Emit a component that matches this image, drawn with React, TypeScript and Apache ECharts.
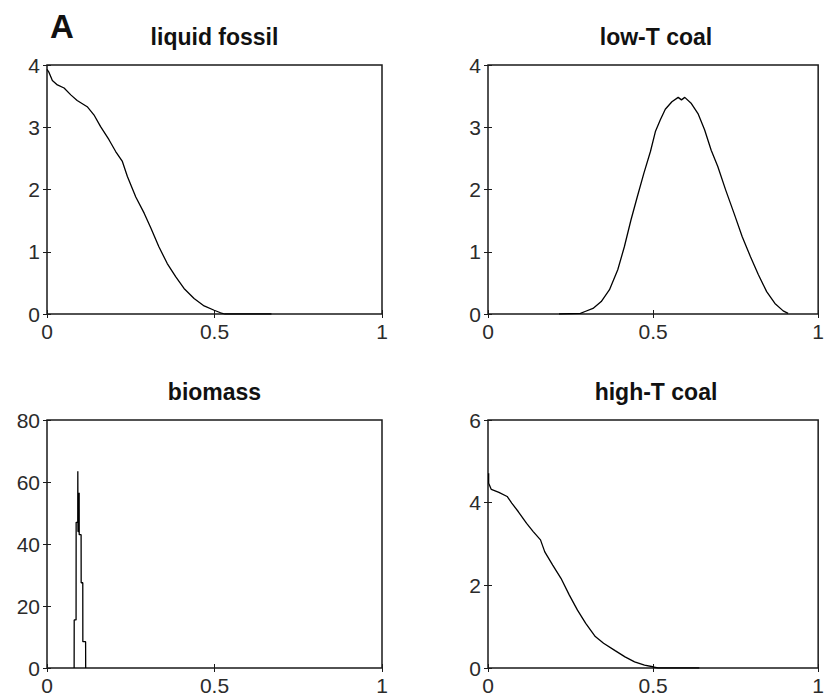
import React, { useEffect, useRef } from "react";
import * as echarts from "echarts";

// Panel curves (x from 0 to 1)
const liquidFossilX = [0.0, 0.006, 0.016, 0.031, 0.051, 0.071, 0.09, 0.12, 0.14, 0.16, 0.185, 0.205, 0.225, 0.24, 0.265, 0.29, 0.31, 0.334, 0.359, 0.384, 0.409, 0.439, 0.469, 0.499, 0.518, 0.53, 0.67];
const liquidFossilY = [3.93, 3.88, 3.75, 3.68, 3.63, 3.52, 3.43, 3.33, 3.2, 3.01, 2.8, 2.61, 2.45, 2.21, 1.88, 1.62, 1.38, 1.08, 0.81, 0.6, 0.41, 0.25, 0.13, 0.06, 0.02, 0.0, 0.0];

const lowTCoalX = [0.215, 0.28, 0.294, 0.318, 0.343, 0.368, 0.393, 0.413, 0.433, 0.452, 0.472, 0.492, 0.507, 0.522, 0.537, 0.557, 0.576, 0.586, 0.596, 0.616, 0.636, 0.656, 0.676, 0.696, 0.72, 0.745, 0.77, 0.795, 0.819, 0.844, 0.869, 0.894, 0.909];
const lowTCoalY = [0.0, 0.01, 0.04, 0.09, 0.2, 0.39, 0.71, 1.08, 1.51, 1.88, 2.26, 2.61, 2.93, 3.12, 3.29, 3.41, 3.48, 3.44, 3.48, 3.38, 3.22, 2.96, 2.63, 2.37, 1.99, 1.62, 1.24, 0.92, 0.63, 0.36, 0.17, 0.05, 0.01];

const biomassX = [0.081, 0.0812, 0.0868, 0.087, 0.0918, 0.092, 0.0925, 0.0958, 0.096, 0.0962, 0.1018, 0.102, 0.1068, 0.107, 0.1152, 0.1155];
const biomassY = [0, 15.5, 15.5, 47, 47, 63.5, 44, 44, 56.5, 43, 43, 27.5, 27.5, 8.5, 8.5, 0];

const highTCoalX = [0.002, 0.002, 0.01, 0.033, 0.058, 0.072, 0.092, 0.117, 0.137, 0.159, 0.172, 0.196, 0.221, 0.246, 0.271, 0.296, 0.325, 0.35, 0.385, 0.415, 0.444, 0.474, 0.499, 0.515, 0.64];
const highTCoalY = [4.71, 4.47, 4.32, 4.25, 4.15, 3.99, 3.78, 3.5, 3.3, 3.1, 2.81, 2.49, 2.17, 1.77, 1.4, 1.08, 0.76, 0.6, 0.42, 0.27, 0.15, 0.07, 0.03, 0.0, 0.0];

const panelTitles = ["liquid fossil", "low-T coal", "biomass", "high-T coal"];
const yMaxes = [4, 4, 80, 6];
const yIntervals = [1, 1, 20, 2];

const panelXs = [liquidFossilX, lowTCoalX, biomassX, highTCoalX];
const panelYs = [liquidFossilY, lowTCoalY, biomassY, highTCoalY];

const grids = [
  { left: 47, top: 65, width: 335, height: 249 },
  { left: 488, top: 65, width: 336, height: 249 },
  { left: 47, top: 420, width: 335, height: 248 },
  { left: 488, top: 420, width: 336, height: 248 },
];

const FONT = "'Liberation Sans', Arial, Helvetica, sans-serif";
const INK = "#1a1a1a";

export default function App() {
  const ref = useRef<HTMLDivElement>(null);

  useEffect(() => {
    if (!ref.current) return;
    const chart = echarts.init(ref.current, undefined, { renderer: "svg" });

    const tick = { show: true, inside: true, length: 4, lineStyle: { color: INK, width: 1 } };
    const label = { fontFamily: FONT, fontSize: 21, color: "#2b2b2b" };

    const xAxis: any[] = [];
    const yAxis: any[] = [];
    const series: any[] = [];
    const graphic: any[] = [];

    grids.forEach((g, i) => {
      const common = { gridIndex: i, type: "value", splitLine: { show: false }, axisLine: { show: false } };
      xAxis.push({
        ...common, position: "bottom", min: 0, max: 1, interval: 0.5,
        axisTick: tick, axisLabel: { ...label, margin: 7 },
      });
      xAxis.push({
        ...common, position: "top", min: 0, max: 1, interval: 0.5,
        axisTick: tick, axisLabel: { show: false },
      });
      yAxis.push({
        ...common, position: "left", min: 0, max: yMaxes[i], interval: yIntervals[i],
        axisTick: tick, axisLabel: { ...label, margin: 7 },
      });
      yAxis.push({
        ...common, position: "right", min: 0, max: yMaxes[i], interval: yIntervals[i],
        axisTick: tick, axisLabel: { show: false },
      });
      series.push({
        type: "line",
        xAxisIndex: 2 * i,
        yAxisIndex: 2 * i,
        showSymbol: false,
        symbol: "none",
        lineStyle: { color: "#000", width: 1.3 },
        data: panelXs[i].map((x, k) => [x, panelYs[i][k]]),
      });
      graphic.push({
        type: "text",
        x: g.left + g.width / 2,
        y: g.top - 28,
        style: {
          text: panelTitles[i],
          font: `bold 23px ${FONT}`,
          fill: "#111",
          textAlign: "center",
          textVerticalAlign: "middle",
          align: "center",
          verticalAlign: "middle",
        },
      });
    });

    graphic.push({
      type: "text",
      x: 62,
      y: 26,
      style: {
        text: "A",
        font: `bold 33px ${FONT}`,
        fill: "#111",
        textAlign: "center",
        textVerticalAlign: "middle",
        align: "center",
        verticalAlign: "middle",
      },
    });

    chart.setOption({
      animation: false,
      backgroundColor: "#fff",
      grid: grids.map((g) => ({
        ...g,
        show: true,
        borderColor: INK,
        borderWidth: 1.5,
        backgroundColor: "#fff",
        containLabel: false,
      })),
      xAxis,
      yAxis,
      series,
      graphic,
    });

    return () => chart.dispose();
  }, []);

  return (
    <div
      ref={ref}
      style={{ position: "fixed", left: 0, top: 0, width: 827, height: 700, background: "#fff" }}
    />
  );
}
